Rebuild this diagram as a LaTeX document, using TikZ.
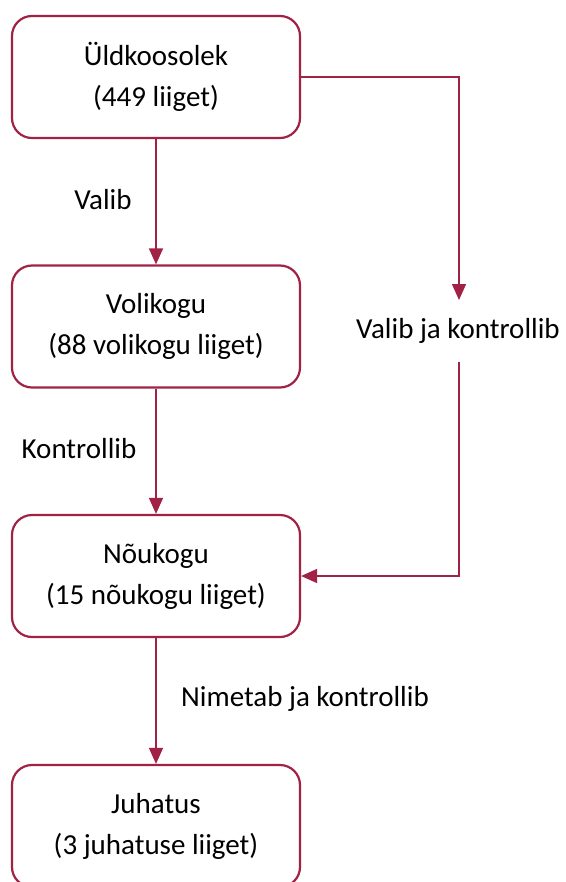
\documentclass[tikz,border=0pt]{standalone}
\usepackage{fontspec}
\setmainfont{Carlito}
\usetikzlibrary{arrows.meta,positioning}
\definecolor{maroon}{RGB}{160,35,70}
\tikzset{
  box/.style={draw=maroon, line width=2.2pt, rounded corners=20pt, fill=white,
    minimum width=288pt, minimum height=122pt, align=center, inner sep=0pt,
    font=\fontsize{29}{41}\selectfont},
  conn/.style={draw=maroon, line width=1.5pt, -{Triangle[width=14pt,length=16pt]}},
  plain/.style={draw=maroon, line width=1.5pt},
  lbl/.style={font=\fontsize{29}{35}\selectfont, inner sep=0pt}
}
\begin{document}
\begin{tikzpicture}[x=1pt,y=-1pt]
\useasboundingbox (0,0) rectangle (565,882);
\node[box] (b1) at (156,77) {Üldkoosolek\\(449 liiget)};
\node[box] (b2) at (156,326.5) {Volikogu\\(88 volikogu liiget)};
\node[box] (b3) at (156,576) {Nõukogu\\(15 nõukogu liiget)};
\node[box] (b4) at (156,826) {Juhatus\\(3 juhatuse liiget)};
\node[lbl] (l1) at (103,200) {Valib};
\node[lbl] (l2) at (79,449) {Kontrollib};
\node[lbl] (l3) at (305,699) {Nimetab ja kontrollib};
\node[lbl] (l4) at (458,331) {Valib ja kontrollib};
\coordinate (c1) at (459,77);
\coordinate (c2) at (459,300);
\coordinate (c3) at (459,362);
\coordinate (c4) at (459,576);
\draw[conn] (b1.south) -- (b2.north);
\draw[conn] (b2.south) -- (b3.north);
\draw[conn] (b3.south) -- (b4.north);
\draw[conn] (b1.east) -- (c1) -- (c2);
\draw[conn] (c3) -- (c4) -- (b3.east);
\end{tikzpicture}
\end{document}
